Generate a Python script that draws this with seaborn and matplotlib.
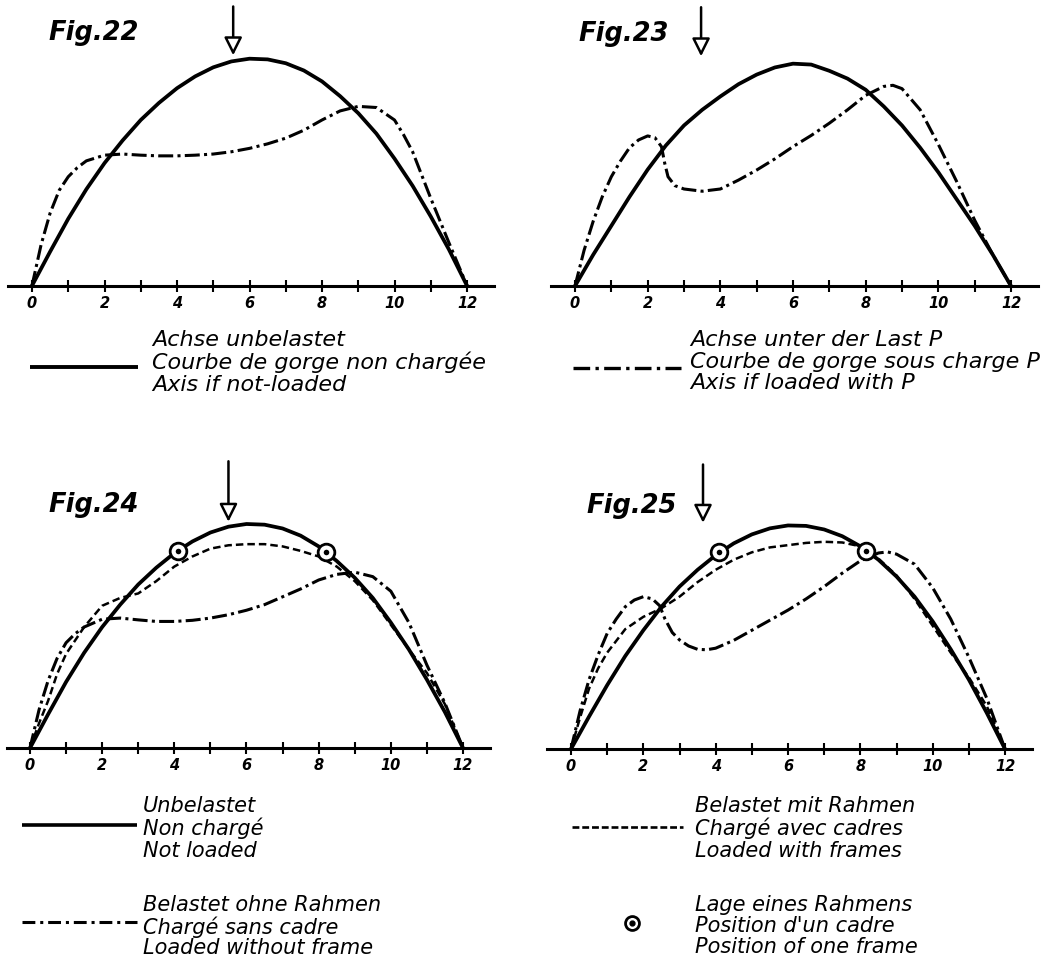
import matplotlib
matplotlib.use('Agg')
import matplotlib.pyplot as plt
import seaborn as sns

# ---- data (height of unloaded axis peak = 1.0) ----
ticks = list(range(13))
tick_labels = [str(t) if t % 2 == 0 else '' for t in ticks]

x_half = [0, 0.5, 1, 1.5, 2, 2.5, 3, 3.5, 4, 4.5, 5, 5.5, 6, 6.5, 7, 7.5, 8, 8.5, 9, 9.5, 10, 10.5, 11, 11.5, 12]

# Fig.22 - load at middle
fig22_solid = [0, 0.15, 0.295, 0.425, 0.54, 0.64, 0.73, 0.805, 0.87, 0.922, 0.962, 0.988, 1.0, 0.997, 0.98, 0.948, 0.9, 0.835, 0.76, 0.67, 0.56, 0.44, 0.305, 0.16, 0]
fig22_dd_x = [0, 0.25, 0.5, 0.75, 1, 1.25, 1.5, 2, 2.5, 3, 3.5, 4, 4.5, 5, 5.5, 6, 6.5, 7, 7.5, 8, 8.5, 9, 9.5, 10, 10.25, 10.5, 11, 11.5, 12]
fig22_dd_y = [0, 0.18, 0.32, 0.42, 0.48, 0.52, 0.55, 0.575, 0.58, 0.575, 0.572, 0.572, 0.575, 0.58, 0.59, 0.605, 0.625, 0.65, 0.685, 0.73, 0.77, 0.79, 0.785, 0.73, 0.665, 0.59, 0.385, 0.19, 0]

# Fig.23 - load off centre
fig23_solid = [0, 0.14, 0.27, 0.40, 0.522, 0.63, 0.72, 0.79, 0.85, 0.905, 0.948, 0.98, 0.997, 0.993, 0.965, 0.93, 0.88, 0.805, 0.72, 0.62, 0.51, 0.39, 0.27, 0.14, 0]
fig23_dd_x = [0, 0.25, 0.5, 0.75, 1, 1.25, 1.5, 1.75, 2, 2.2, 2.38, 2.47, 2.56, 2.75, 3, 3.5, 4, 4.5, 5, 5.5, 6, 6.5, 7, 7.5, 8, 8.5, 8.75, 9, 9.5, 10, 10.5, 11, 11.5, 12]
fig23_dd_y = [0, 0.16, 0.29, 0.40, 0.49, 0.56, 0.62, 0.655, 0.673, 0.665, 0.625, 0.55, 0.49, 0.45, 0.435, 0.425, 0.435, 0.475, 0.52, 0.57, 0.625, 0.675, 0.73, 0.79, 0.855, 0.895, 0.9, 0.885, 0.79, 0.635, 0.47, 0.295, 0.14, 0]

# Fig.24 - load at middle, with frames
fig24_solid = [0, 0.15, 0.295, 0.425, 0.54, 0.64, 0.73, 0.805, 0.87, 0.922, 0.962, 0.988, 1.0, 0.997, 0.98, 0.948, 0.9, 0.835, 0.76, 0.67, 0.56, 0.44, 0.305, 0.16, 0]
fig24_dd_x = [0, 0.25, 0.5, 0.75, 1, 1.25, 1.5, 2, 2.5, 3, 3.5, 4, 4.5, 5, 5.5, 6, 6.5, 7, 7.5, 8, 8.5, 9, 9.5, 10, 10.5, 11, 11.5, 12]
fig24_dd_y = [0, 0.17, 0.30, 0.40, 0.47, 0.51, 0.54, 0.575, 0.58, 0.572, 0.565, 0.565, 0.57, 0.58, 0.595, 0.615, 0.64, 0.675, 0.71, 0.75, 0.775, 0.785, 0.765, 0.70, 0.56, 0.37, 0.20, 0]
fig24_dash_x = [0, 0.25, 0.5, 0.75, 1, 1.5, 2, 2.5, 3, 3.5, 4, 4.5, 5, 5.5, 6, 6.5, 7, 7.5, 8, 8.5, 9, 9.5, 10, 10.5, 11, 11.5, 12]
fig24_dash_y = [0, 0.11, 0.21, 0.33, 0.42, 0.54, 0.635, 0.67, 0.69, 0.745, 0.81, 0.855, 0.89, 0.905, 0.91, 0.91, 0.90, 0.88, 0.855, 0.81, 0.745, 0.66, 0.55, 0.44, 0.335, 0.195, 0]
fig24_frame_x = [4.1, 8.2]
fig24_frame_y = [0.88, 0.875]

# Fig.25 - load off centre, with frames
fig25_solid = [0, 0.145, 0.285, 0.415, 0.53, 0.635, 0.725, 0.80, 0.865, 0.918, 0.958, 0.985, 0.998, 0.996, 0.98, 0.95, 0.905, 0.845, 0.77, 0.68, 0.57, 0.445, 0.31, 0.16, 0]
fig25_dd_x = [0, 0.25, 0.5, 0.75, 1, 1.25, 1.5, 1.75, 2, 2.25, 2.45, 2.6, 2.8, 3, 3.25, 3.5, 3.75, 4, 4.5, 5, 5.5, 6, 6.5, 7, 7.5, 8, 8.5, 8.75, 9, 9.5, 10, 10.5, 11, 11.5, 12]
fig25_dd_y = [0, 0.17, 0.31, 0.42, 0.516, 0.58, 0.635, 0.665, 0.68, 0.67, 0.64, 0.58, 0.52, 0.487, 0.46, 0.445, 0.443, 0.45, 0.485, 0.53, 0.575, 0.62, 0.67, 0.725, 0.785, 0.84, 0.875, 0.88, 0.87, 0.825, 0.72, 0.58, 0.41, 0.225, 0]
fig25_dash_x = [0, 0.25, 0.5, 0.75, 1, 1.5, 2, 2.5, 3, 3.5, 4, 4.5, 5, 5.5, 6, 6.5, 7, 7.5, 8, 8.5, 9, 9.5, 10, 10.5, 11, 11.5, 12]
fig25_dash_y = [0, 0.14, 0.27, 0.36, 0.43, 0.535, 0.59, 0.628, 0.68, 0.745, 0.80, 0.845, 0.878, 0.90, 0.91, 0.92, 0.925, 0.922, 0.905, 0.85, 0.775, 0.67, 0.55, 0.43, 0.32, 0.19, 0]
fig25_frame_x = [4.1, 8.15]
fig25_frame_y = [0.88, 0.885]

# load positions (arrows)
load_x = [5.55, 3.47, 5.5, 3.65]

titles = ['Fig.22', 'Fig.23', 'Fig.24', 'Fig.25']

W, H = 1058, 957
DASHDOT = (0, (4.9, 1.4, 1.0, 1.4))
DASHED = (0, (3.0, 1.6))

sns.set_theme(style='ticks')
plt.rcParams['font.family'] = ['DejaVu Sans']
plt.rcParams['text.color'] = 'black'
plt.rcParams['lines.dash_capstyle'] = 'butt'

fig = plt.figure(figsize=(W / 100, H / 100), dpi=100)

# overlay axes in pixel coordinates for titles and legends
over = fig.add_axes([0, 0, 1, 1], zorder=0)
over.set_xlim(0, W)
over.set_ylim(H, 0)
over.axis('off')


def panel_axes(x0, x12, base, unit):
    s = (x12 - x0) / 12
    left, right = x0 - 0.65 * s, x0 + 12.75 * s
    top, bottom = base - 1.3 * unit, base + 0.15 * unit
    ax = fig.add_axes([left / W, 1 - bottom / H, (right - left) / W, (bottom - top) / H], zorder=2)
    ax.set_xlim(-0.65, 12.75)
    ax.set_ylim(-0.15, 1.3)
    ax.patch.set_alpha(0)
    sns.despine(ax=ax, left=True)
    ax.spines['bottom'].set_position(('data', 0))
    ax.spines['bottom'].set_linewidth(2.2)
    ax.spines['bottom'].set_color('black')
    ax.set_yticks([])
    ax.set_xticks(ticks)
    ax.set_xticklabels(tick_labels, fontweight='bold', fontstyle='italic')
    ax.tick_params(axis='x', direction='inout', length=9, width=1.5, pad=3,
                   labelsize=10.5, colors='black')
    return ax


def draw_frames(ax, xs, ys, ms=12):
    sns.scatterplot(x=xs, y=ys, ax=ax, s=ms ** 2, color='white', edgecolor='black',
                    linewidth=2.0, zorder=5)
    sns.scatterplot(x=xs, y=ys, ax=ax, s=16, color='black', edgecolor='black',
                    linewidth=0, zorder=6)


def draw_load(ax, x, top, tip):
    ax.annotate('', xy=(x, tip), xytext=(x, top),
                arrowprops=dict(arrowstyle='-|>,head_length=0.4,head_width=0.2',
                                mutation_scale=27, fc='white', ec='black', lw=1.8,
                                shrinkA=0, shrinkB=0))


geo = [(32, 467, 285.7, 227), (575, 1011, 286, 223), (30, 463, 748, 224), (571, 1005, 749, 224)]
axes = [panel_axes(*g) for g in geo]

solid_kw = dict(color='black', lw=2.7, estimator=None, errorbar=None)
dd_kw = dict(color='black', lw=2.2, linestyle=DASHDOT, estimator=None, errorbar=None)
dash_kw = dict(color='black', lw=1.8, linestyle=DASHED, estimator=None, errorbar=None)

ax = axes[0]
sns.lineplot(x=x_half, y=fig22_solid, ax=ax, **solid_kw)
sns.lineplot(x=fig22_dd_x, y=fig22_dd_y, ax=ax, **dd_kw)
draw_load(ax, load_x[0], 1.23, 1.015)

ax = axes[1]
sns.lineplot(x=x_half, y=fig23_solid, ax=ax, **solid_kw)
sns.lineplot(x=fig23_dd_x, y=fig23_dd_y, ax=ax, **dd_kw)
draw_load(ax, load_x[1], 1.25, 1.03)

ax = axes[2]
sns.lineplot(x=x_half, y=fig24_solid, ax=ax, **solid_kw)
sns.lineplot(x=fig24_dd_x, y=fig24_dd_y, ax=ax, **dd_kw)
sns.lineplot(x=fig24_dash_x, y=fig24_dash_y, ax=ax, **dash_kw)
draw_frames(ax, fig24_frame_x, fig24_frame_y)
draw_load(ax, load_x[2], 1.28, 1.01)

ax = axes[3]
sns.lineplot(x=x_half, y=fig25_solid, ax=ax, **solid_kw)
sns.lineplot(x=fig25_dd_x, y=fig25_dd_y, ax=ax, **dd_kw)
sns.lineplot(x=fig25_dash_x, y=fig25_dash_y, ax=ax, **dash_kw)
draw_frames(ax, fig25_frame_x, fig25_frame_y)
draw_load(ax, load_x[3], 1.27, 1.01)

# figure titles
title_pos = [(48, 40), (578, 41), (48, 512), (586, 513)]
for t, (tx, ty) in zip(titles, title_pos):
    over.text(tx, ty, t, fontsize=18.5, fontweight='bold', fontstyle='italic',
              va='baseline', ha='left', color='black')


# legends: one three-line text per entry, placed by the first baseline
def legend_block(x, baseline, lines, size, spacing):
    em = size * 100 / 72
    over.text(x, baseline - 0.76 * em, '\n'.join(lines), fontsize=size, fontstyle='italic',
              va='top', ha='left', color='black', linespacing=spacing)


legend_block(152, 347, ['Achse unbelastet', 'Courbe de gorge non chargée', 'Axis if not-loaded'], 16, 1.1)
over.plot([30, 138], [367, 367], color='black', lw=2.8, solid_capstyle='butt')

legend_block(690, 347, ['Achse unter der Last P', 'Courbe de gorge sous charge P', 'Axis if loaded with P'], 16, 1.1)
over.plot([573, 681], [368, 368], color='black', lw=2.4, linestyle=(0, (5.0, 1.6, 1.0, 1.6)))

legend_block(143, 812, ['Unbelastet', 'Non chargé', 'Not loaded'], 15, 1.1)
over.plot([22, 137], [825, 825], color='black', lw=2.6, solid_capstyle='butt')

legend_block(143, 911, ['Belastet ohne Rahmen', 'Chargé sans cadre', 'Loaded without frame'], 15, 1.05)
over.plot([22, 137], [922, 922], color='black', lw=2.2, linestyle=(0, (4.2, 1.6, 1.0, 1.6)))

legend_block(695, 812, ['Belastet mit Rahmen', 'Chargé avec cadres', 'Loaded with frames'], 15, 1.1)
over.plot([572, 683], [827, 827], color='black', lw=1.9, linestyle=(0, (2.6, 1.1)))

legend_block(695, 911, ['Lage eines Rahmens', "Position d'un cadre", 'Position of one frame'], 15, 1.05)
over.plot([632], [923], marker='o', ms=10, mfc='white', mec='black', mew=2.0, ls='none')
over.plot([632], [923], marker='o', ms=3.5, mfc='black', mec='black', ls='none')

fig.savefig('out.png', dpi=100, facecolor='white')
